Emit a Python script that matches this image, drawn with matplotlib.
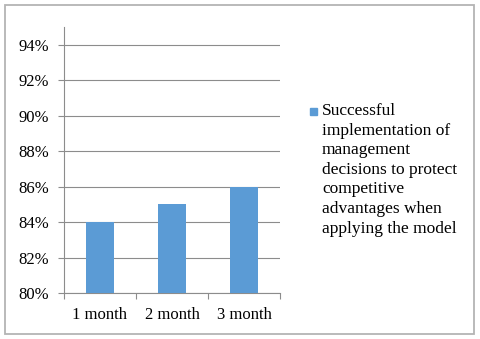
import matplotlib
matplotlib.use("Agg")
import matplotlib.pyplot as plt
from matplotlib.patches import Rectangle
from matplotlib.ticker import FuncFormatter, MultipleLocator

# -----------------------------------------------------------------------------
#                                   Data
# -----------------------------------------------------------------------------
categories = ["1 month", "2 month", "3 month"]
values = [0.84, 0.85, 0.86]
series_label = ("Successful\nimplementation of\nmanagement\ndecisions to protect\n"
                "competitive\nadvantages when\napplying the model")

bar_color = "#5b9bd5"
grid_color = "#8c8c8c"

plt.rcParams["font.family"] = ["Liberation Serif", "DejaVu Serif"]
plt.rcParams["font.size"] = 12

W, H = 480, 339
fig = plt.figure(figsize=(W / 100, H / 100), dpi=100)

# outer chart border
fig.patches.append(Rectangle((5 / W, 1 - 334 / H), 469 / W, 329 / H,
                             transform=fig.transFigure, fill=False,
                             edgecolor="#b4b4b4", lw=1.3))

ax = fig.add_axes([64 / W, 1 - 293 / H, 216 / W, 266 / H])
x = list(range(len(categories)))
ax.bar(x, values, width=0.4, color=bar_color, zorder=3)

ax.set_xlim(-0.5, len(categories) - 0.5)
ax.set_ylim(0.80, 0.95)
ax.yaxis.set_major_locator(MultipleLocator(0.02))
ax.yaxis.set_major_formatter(FuncFormatter(lambda v, p: f"{v * 100:.0f}%"))
ax.grid(axis="y", color=grid_color, lw=0.8, zorder=0)

ax.set_xticks(x)
ax.set_xticklabels(categories)
ax.set_xticks([i - 0.5 for i in range(len(categories) + 1)], minor=True)
ax.tick_params(axis="x", which="major", length=0, pad=10)
ax.tick_params(axis="x", which="minor", length=4.5, color=grid_color, width=0.8)
ax.tick_params(axis="y", length=4.5, color=grid_color, width=0.8, pad=6)

for s in ["top", "right"]:
    ax.spines[s].set_visible(False)
for s in ["left", "bottom"]:
    ax.spines[s].set_color(grid_color)
    ax.spines[s].set_linewidth(0.8)

# legend (square marker + wrapped text, Excel style)
fig.patches.append(Rectangle((310 / W, 1 - 115 / H), 7 / W, 7 / H,
                             transform=fig.transFigure, color=bar_color))
fig.text(322 / W, 1 - 103 / H, series_label, va="top", ha="left",
         fontsize=12.5, linespacing=1.3)

fig.savefig("out.png", dpi=100)
